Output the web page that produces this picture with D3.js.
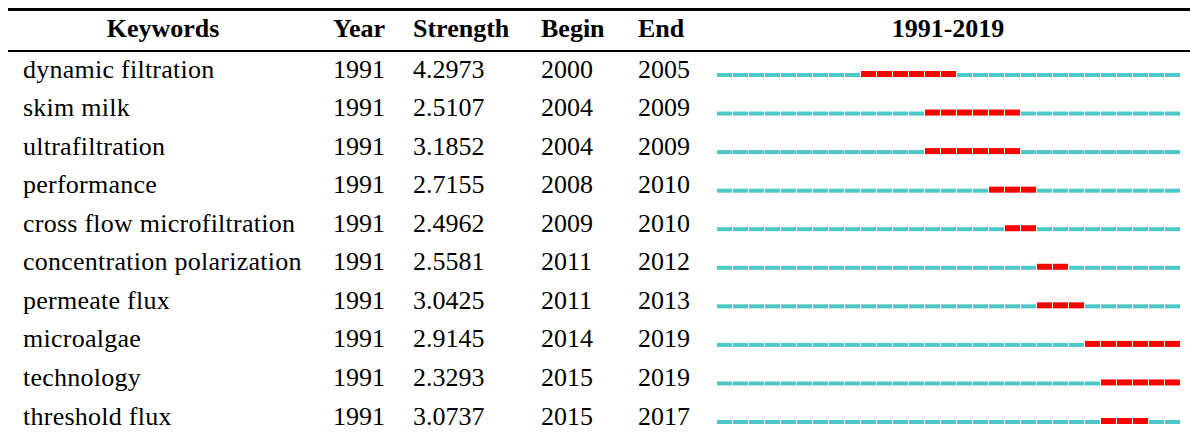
<!DOCTYPE html>
<html>
<head>
<meta charset="utf-8">
<script src="https://cdn.jsdelivr.net/npm/d3@7"></script>
<style>
  body { margin: 0; background: #fff; }
</style>
</head>
<body>
<div id="chart"></div>
<script>
// table data
var keywords = ["dynamic filtration", "skim milk", "ultrafiltration", "performance",
  "cross flow microfiltration", "concentration polarization", "permeate flux",
  "microalgae", "technology", "threshold flux"];
var years = [1991, 1991, 1991, 1991, 1991, 1991, 1991, 1991, 1991, 1991];
var strength = ["4.2973", "2.5107", "3.1852", "2.7155", "2.4962", "2.5581", "3.0425", "2.9145", "2.3293", "3.0737"];
var begin = [2000, 2004, 2004, 2008, 2009, 2011, 2011, 2014, 2015, 2015];
var end = [2005, 2009, 2009, 2010, 2010, 2012, 2013, 2019, 2019, 2017];
var headers = ["Keywords", "Year", "Strength", "Begin", "End", "1991-2019"];
var firstYear = 1991, lastYear = 2019;

var width = 1190, height = 436;
var font = "'Liberation Serif', 'Times New Roman', 'DejaVu Serif', serif";

var svg = d3.select("#chart").append("svg")
  .attr("width", width)
  .attr("height", height)
  .attr("font-family", font);

// row positions
var y = d3.scalePoint().domain(d3.range(keywords.length)).range([69, 416]);
// timeline
var x = d3.scaleLinear().domain([firstYear, lastYear + 1]).range([717, 1181]);
var yearList = d3.range(firstYear, lastYear + 1);

// rules
svg.append("rect").attr("x", 8).attr("y", 8).attr("width", width - 8).attr("height", 3).attr("fill", "#000");
svg.append("rect").attr("x", 8).attr("y", 50).attr("width", width - 8).attr("height", 2).attr("fill", "#000");

// header
var headX = [163, 333, 413, 541, 638, 948];
var headAnchor = ["middle", "start", "start", "start", "start", "middle"];
svg.selectAll(".head").data(headers).enter().append("text")
  .attr("class", "head")
  .attr("x", function(d, i) { return headX[i]; })
  .attr("y", 37)
  .attr("text-anchor", function(d, i) { return headAnchor[i]; })
  .attr("font-family", font)
  .attr("font-weight", "bold")
  .attr("font-size", 26)
  .text(function(d) { return d; });

// body columns
var cols = [
  {x: 23, vals: keywords, ls: 0.25},
  {x: 333, vals: years, ls: 0},
  {x: 413, vals: strength, ls: 0},
  {x: 541, vals: begin, ls: 0},
  {x: 638, vals: end, ls: 0}
];
cols.forEach(function(c) {
  svg.append("g").selectAll("text").data(c.vals).enter().append("text")
    .attr("x", c.x)
    .attr("y", function(d, i) { return y(i) + 8.5; })
    .attr("font-family", font)
    .attr("font-size", 26)
    .attr("letter-spacing", c.ls)
    .text(function(d) { return d; });
});

// timeline segments
keywords.forEach(function(k, i) {
  var base = y(i) + 8;
  svg.append("g").selectAll("rect").data(yearList).enter().append("rect")
    .attr("x", function(d) { return x(d); })
    .attr("width", function(d) { return x(d + 1) - x(d) - 1; })
    .attr("y", function(d) { return (d >= begin[i] && d <= end[i]) ? base - 6 : base - 4; })
    .attr("height", function(d) { return (d >= begin[i] && d <= end[i]) ? 6 : 4; })
    .attr("fill", function(d) { return (d >= begin[i] && d <= end[i]) ? "#ff0000" : "#4dc8c8"; });
});
</script>
</body>
</html>
